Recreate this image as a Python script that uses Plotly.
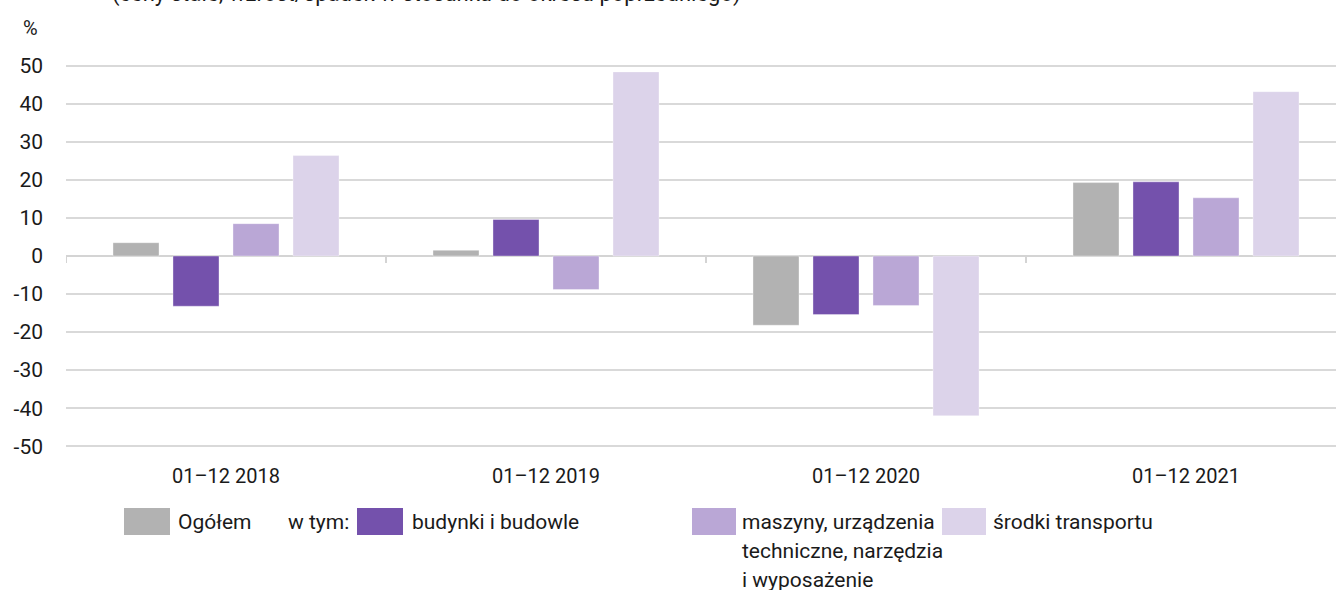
import plotly.graph_objects as go

# ---- data ----
categories = ["01–12 2018", "01–12 2019", "01–12 2020", "01–12 2021"]
series_names = ["Ogółem", "budynki i budowle",
                "maszyny, urządzenia<br>techniczne, narzędzia<br>i wyposażenie",
                "środki transportu"]
ogolem = [3.5, 1.5, -18.2, 19.3]
budynki = [-13.2, 9.6, -15.4, 19.5]
maszyny = [8.5, -8.8, -13.0, 15.3]
transport = [26.4, 48.4, -42.0, 43.2]
colors = ["#b2b2b2", "#7451ac", "#baa7d6", "#dcd3ea"]
y_ticks = [-50, -40, -30, -20, -10, 0, 10, 20, 30, 40, 50]
title_text = "(ceny stałe; wzrost/spadek w stosunku do okresu poprzedniego)"

FONT = "Roboto"
FS = 21
WIDTH, HEIGHT = 1336, 590
L, T, H = 66, 62, 388
R = 0
B = HEIGHT - T - H
W = WIDTH - L - R


def px(x):
    return (x - L) / W


def py(y):
    return (T + H - y) / H


fig = go.Figure()
for name, vals, col in zip(series_names, [ogolem, budynki, maszyny, transport], colors):
    fig.add_trace(go.Bar(
        x=categories, y=vals, name=name.replace("<br>", " "),
        marker=dict(color=col, line=dict(width=1, color="rgba(255,255,255,0.35)")),
        showlegend=False, hoverinfo="x+y",
    ))

cat_w = 320.0
fig.update_layout(
    width=WIDTH, height=HEIGHT,
    margin=dict(l=L, r=R, t=T, b=B, pad=0),
    paper_bgcolor="white", plot_bgcolor="white",
    barmode="group", bargap=0.25, bargroupgap=0.233,
    font=dict(family=FONT, size=FS, color="#1a1a1a"),
    xaxis=dict(
        type="category", range=[-0.5, -0.5 + W / cat_w],
        showgrid=False, showline=False, zeroline=False, ticks="",
        tickfont=dict(family=FONT, size=FS - 1, color="#1a1a1a"),
        ticklabelstandoff=12,
    ),
    yaxis=dict(
        range=[-51, 51], tickvals=y_ticks, ticktext=[str(v) for v in y_ticks],
        showgrid=True, gridcolor="#d9d9d9", gridwidth=1.5,
        zeroline=True, zerolinecolor="#d4d4d4", zerolinewidth=2,
        showline=False, ticks="", ticklabelstandoff=22,
        tickfont=dict(family=FONT, size=FS, color="#1a1a1a"),
    ),
)

# category separator ticks on zero line
for i in range(len(categories) + 1):
    fig.add_shape(type="line", xref="x", yref="y", ysizemode="pixel", yanchor=0,
                  x0=i - 0.5, x1=i - 0.5, y0=0, y1=-7,
                  line=dict(color="#d4d4d4", width=2))

# unit label and (cropped) subtitle
fig.add_annotation(xref="paper", yref="paper", x=px(30), y=py(28), text="%",
                   showarrow=False, xanchor="center", yanchor="middle",
                   font=dict(family=FONT, size=FS - 1, color="#1a1a1a"))
fig.add_annotation(xref="paper", yref="paper", x=px(110), y=py(-6), text=title_text,
                   showarrow=False, xanchor="left", yanchor="middle",
                   font=dict(family=FONT, size=FS + 1, color="#1a1a1a"))

# manual legend
sw = [(124, 170), (357, 403), (692, 736), (942, 986)]
tx = [176, 410, 740, 991]
sy0, sy1 = 508, 535
line_step = 29
for (x0, x1), t, name, col in zip(sw, tx, series_names, colors):
    fig.add_shape(type="rect", xref="paper", yref="paper",
                  x0=px(x0), x1=px(x1), y0=py(sy1), y1=py(sy0),
                  fillcolor=col, line=dict(width=0))
    for k, line in enumerate(name.split("<br>")):
        fig.add_annotation(xref="paper", yref="paper", x=px(t), y=py(522 + k * line_step),
                           text=line, showarrow=False, xanchor="left", yanchor="middle",
                           align="left", font=dict(family=FONT, size=FS, color="#1a1a1a"))
fig.add_annotation(xref="paper", yref="paper", x=px(286), y=py(522), text="w tym:",
                   showarrow=False, xanchor="left", yanchor="middle",
                   font=dict(family=FONT, size=FS, color="#1a1a1a"))

fig.write_html("out.html", config={"displayModeBar": False},
               post_script="document.body.style.margin='0px';document.body.style.overflow='hidden';")
